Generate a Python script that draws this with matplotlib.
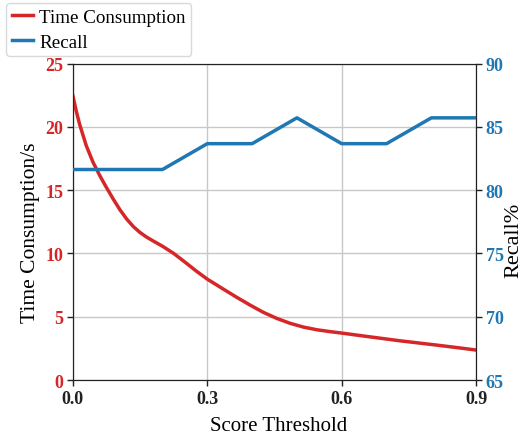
import matplotlib
matplotlib.use("Agg")
import matplotlib.pyplot as plt

plt.rcParams['font.family'] = ['Liberation Serif', 'DejaVu Serif']

# Time consumption curve
time_x = [0.000, 0.0075, 0.015, 0.030, 0.045, 0.060, 0.075, 0.090, 0.105, 0.120,
          0.135, 0.150, 0.165, 0.180, 0.200, 0.225, 0.250, 0.275, 0.300, 0.335,
          0.365, 0.395, 0.425, 0.455, 0.485, 0.515, 0.545, 0.575, 0.600, 0.655,
          0.730, 0.805, 0.865, 0.900]
time_y = [22.45, 21.25, 20.2, 18.5, 17.2, 16.15, 15.2, 14.3, 13.45, 12.72,
          12.12, 11.65, 11.28, 10.97, 10.57, 10.0, 9.32, 8.62, 7.97, 7.2,
          6.55, 5.93, 5.35, 4.87, 4.48, 4.18, 3.97, 3.82, 3.71, 3.45,
          3.10, 2.79, 2.53, 2.37]

# Recall
recall_x = [0.0, 0.1, 0.2, 0.3, 0.4, 0.5, 0.6, 0.7, 0.8, 0.9]
recall_y = [81.63, 81.63, 81.63, 83.67, 83.67, 85.71, 83.67, 83.67, 85.71, 85.71]

x_ticks = [0.0, 0.3, 0.6, 0.9]
x_tick_labels = ['0.0', '0.3', '0.6', '0.9']
left_ticks = [0, 5, 10, 15, 20, 25]
right_ticks = [65, 70, 75, 80, 85, 90]

red = '#d62728'
blue = '#1f77b4'

fig = plt.figure(figsize=(5.32, 4.39), dpi=100)
ax1 = fig.add_axes([0.137, 0.132, 0.758, 0.721])
ax2 = ax1.twinx()

ax1.grid(True, color='#c8c8c8', linewidth=1.0)
ax1.set_axisbelow(True)
l1, = ax1.plot(time_x, time_y, color=red, lw=2.5, label='Time Consumption', zorder=3)
l2, = ax2.plot(recall_x, recall_y, color=blue, lw=2.5, label='Recall', zorder=3)

ax1.set_xlim(0, 0.9)
ax1.set_ylim(0, 25)
ax2.set_ylim(65, 90)
ax1.set_xticks(x_ticks)
ax1.set_xticklabels(x_tick_labels)
ax1.set_yticks(left_ticks)
ax2.set_yticks(right_ticks)

for ax in (ax1, ax2):
    ax.tick_params(direction='out', length=4, width=1, colors='#222222', labelsize=13, pad=3)
    for sp in ax.spines.values():
        sp.set_color('#222222')
ax1.tick_params(axis='y', labelcolor=red)
ax2.tick_params(axis='y', labelcolor=blue)

for lab in ax1.get_xticklabels() + ax1.get_yticklabels() + ax2.get_yticklabels():
    lab.set_fontweight('bold')

ax1.set_xlabel('Score Threshold', fontsize=15)
ax1.set_ylabel('Time Consumption/s', fontsize=15.5)
ax2.set_ylabel('Recall%', fontsize=16)
ax1.xaxis.set_label_coords(0.509, -0.112)
ax1.yaxis.set_label_coords(-0.082, 0.467)
ax2.yaxis.set_label_coords(1.071, 0.444)

fig.legend(handles=[l1, l2], loc='upper left', bbox_to_anchor=(0.011, 0.991),
           borderaxespad=0.0, fontsize=13.7, handlelength=1.15, handletextpad=0.3,
           labelspacing=0.38, borderpad=0.3, frameon=True, edgecolor='#d0d0d0',
           fancybox=True)

fig.savefig('out.png', dpi=100)
